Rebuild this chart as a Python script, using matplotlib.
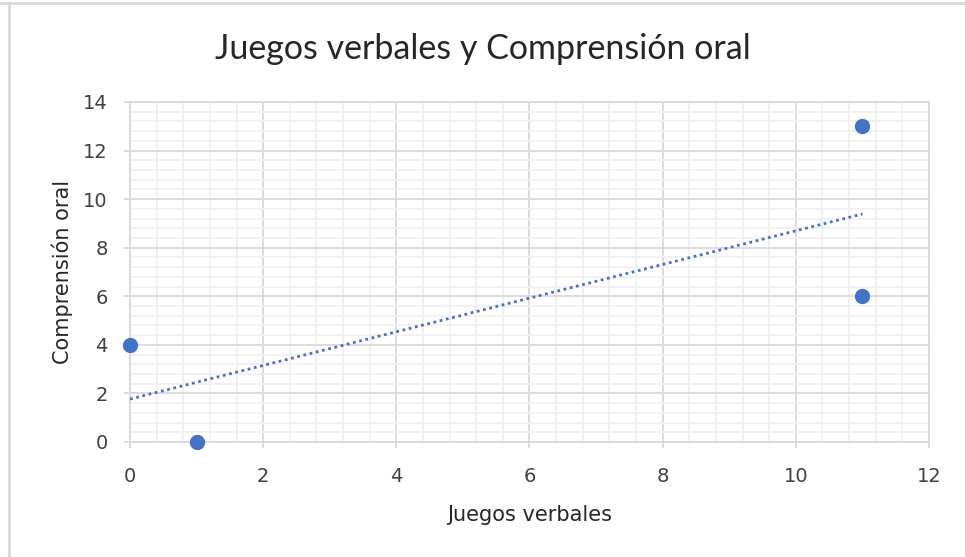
import numpy as np
import matplotlib.pyplot as plt
from matplotlib.lines import Line2D

# datos
juegos = [0, 1, 11, 11]
comprension = [4, 0, 13, 6]

azul = '#4472C4'
gris = '#d9d9d9'

fig = plt.figure(figsize=(9.65, 5.57), dpi=100)
ax = fig.add_axes([0.1347, 0.2065, 0.828, 0.6104])
plt.rcParams['font.family'] = ['Lato', 'DejaVu Sans']

# linea de tendencia lineal (como en Excel)
m, b = np.polyfit(juegos, comprension, 1)
xt = np.array([min(juegos), max(juegos)])
ax.plot(xt, m * xt + b, color=azul, linestyle=(0, (1, 1.3)), linewidth=2, zorder=3)

ax.plot(juegos, comprension, 'o', color=azul, markersize=10, zorder=4, clip_on=False)

ax.set_xlim(0, 12)
ax.set_ylim(0, 14)
ax.set_xticks(np.arange(0, 13, 2))
ax.set_yticks(np.arange(0, 15, 2))
ax.set_xticks(np.arange(0, 12.01, 0.4), minor=True)
ax.set_yticks(np.arange(0, 14.01, 0.4), minor=True)
ax.grid(which='major', color=gris, linewidth=1.3)
ax.grid(which='minor', color='#f0f0f0', linewidth=1.3)
ax.set_axisbelow(True)

for s in ax.spines.values():
    s.set_color(gris)
    s.set_linewidth(1.3)

ax.tick_params(which='major', length=4, width=1.3, color=gris, labelsize=14,
               labelcolor='#404040', pad=12)
ax.tick_params(axis='x', which='major', pad=14)
ax.tick_params(which='minor', length=0)

fig.text(0.5, 0.912, 'Juegos verbales y Comprensión oral', ha='center', va='center',
         fontsize=24.5, color='#262626')
ax.set_xlabel('Juegos verbales', fontsize=15, color='#262626', labelpad=14)
ax.set_ylabel('Comprensión oral', fontsize=15, color='#262626', labelpad=7)

# borde del area del grafico
fig.add_artist(Line2D([0, 1], [1 - 3 / 557, 1 - 3 / 557], color='#d9d9d9', linewidth=2))
fig.add_artist(Line2D([9 / 965, 9 / 965], [0, 1 - 3 / 557], color='#d9d9d9', linewidth=2))

fig.savefig('out.png', dpi=100)
